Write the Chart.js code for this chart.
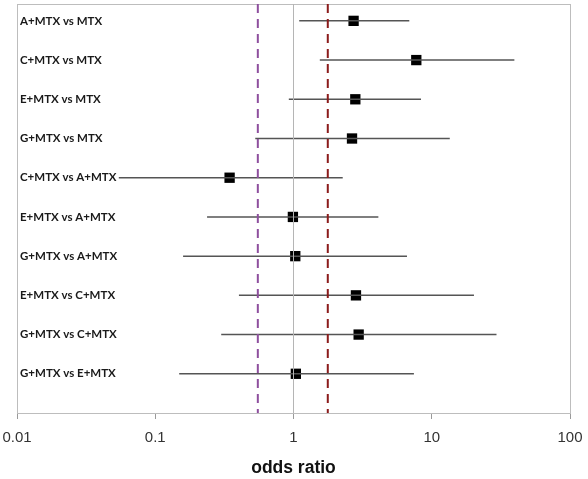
<!DOCTYPE html>
<html>
<head>
<meta charset="utf-8">
<script src="https://cdn.jsdelivr.net/npm/chart.js@4/dist/chart.umd.min.js"></script>
<style>
html,body{margin:0;padding:0;background:#fff;}
#wrap{width:588px;height:479px;}
</style>
</head>
<body>
<div id="wrap"><canvas id="c" width="588" height="479"></canvas></div>
<script>
const categories = ["A+MTX vs MTX","C+MTX vs MTX","E+MTX vs MTX","G+MTX vs MTX","C+MTX vs A+MTX","E+MTX vs A+MTX","G+MTX vs A+MTX","E+MTX vs C+MTX","G+MTX vs C+MTX","G+MTX vs E+MTX"];
const oddsRatio = [2.72, 7.73, 2.80, 2.65, 0.345, 0.99, 1.03, 2.83, 2.96, 1.04];
const lowerCI   = [1.10, 1.55, 0.925, 0.529, 0.0545, 0.237, 0.159, 0.403, 0.30, 0.149];
const upperCI   = [6.88, 39.6, 8.36, 13.5, 2.27, 4.11, 6.62, 20.2, 29.4, 7.43];
const xTicks = [0.01, 0.1, 1, 10, 100];
const refPurple = 0.552;
const refRed = 1.77;
const refOne = 1;

const yMin = -0.43, yMax = 10;

const ciData = [];
categories.forEach((c, i) => {
  ciData.push({x: lowerCI[i], y: i});
  ciData.push({x: upperCI[i], y: i});
  ciData.push({x: null, y: null});
});
const pts = categories.map((c, i) => ({x: oddsRatio[i], y: i}));
const vline = v => [{x: v, y: yMin}, {x: v, y: yMax}];

const borderPlugin = {
  id: 'areaBorder',
  beforeDatasetsDraw(chart) {
    const a = chart.chartArea, ctx = chart.ctx;
    ctx.save();
    ctx.strokeStyle = '#bdbdbd';
    ctx.lineWidth = 1;
    ctx.strokeRect(Math.round(a.left) + 0.5, Math.round(a.top) + 0.5, Math.round(a.right - a.left), Math.round(a.bottom - a.top));
    ctx.restore();
  }
};

new Chart(document.getElementById('c'), {
  type: 'scatter',
  data: {
    datasets: [
      {type: 'line', data: vline(refOne), borderColor: '#b5b5b5', borderWidth: 1, pointRadius: 0, fill: false},
      {type: 'line', data: vline(refPurple), borderColor: '#8e4f9e', borderWidth: 2, borderDash: [9, 6], pointRadius: 0, fill: false},
      {type: 'line', data: vline(refRed), borderColor: '#8b1c1c', borderWidth: 2, borderDash: [9, 6], pointRadius: 0, fill: false},
      {type: 'line', data: ciData, borderColor: '#555555', borderWidth: 1.5, pointRadius: 0, spanGaps: false, fill: false},
      {type: 'scatter', data: pts, pointStyle: 'rect', pointRadius: 7.3, backgroundColor: '#000', borderColor: '#000', borderWidth: 0}
    ]
  },
  options: {
    responsive: false,
    animation: false,
    events: [],
    layout: {autoPadding: false, padding: {left: 17, right: 18, top: 4, bottom: 0}},
    plugins: {legend: {display: false}, tooltip: {enabled: false}},
    scales: {
      x: {
        type: 'logarithmic',
        min: 0.01, max: 100,
        afterBuildTicks: s => { s.ticks = xTicks.map(v => ({value: v})); },
        afterFit: s => { s.paddingLeft = 0; s.paddingRight = 0; },
        ticks: {
          callback: v => String(v),
          font: {family: 'Liberation Sans, Arial', size: 15},
          color: '#333', padding: 10, maxRotation: 0, autoSkip: false
        },
        grid: {drawOnChartArea: false, color: '#9a9a9a', tickLength: 6},
        border: {display: true, color: '#9a9a9a'},
        title: {display: true, text: 'odds ratio', font: {family: 'Liberation Sans, Arial', size: 17.5, weight: 'bold'}, color: '#111', padding: {top: 1, bottom: 0}}
      },
      y: {
        type: 'linear',
        reverse: true,
        min: yMin, max: yMax,
        afterBuildTicks: s => { s.ticks = categories.map((c, i) => ({value: i})); },
        afterFit: s => { s.width = 0; s.paddingTop = 0; s.paddingBottom = 0; },
        ticks: {
          mirror: true, padding: 3,
          callback: v => categories[v] || '',
          font: {family: 'Lato, Liberation Sans', size: 11.5, weight: 'bold'},
          color: '#1a1a1a', autoSkip: false
        },
        grid: {display: false},
        border: {display: false}
      }
    }
  },
  plugins: [borderPlugin]
});
</script>
</body>
</html>
